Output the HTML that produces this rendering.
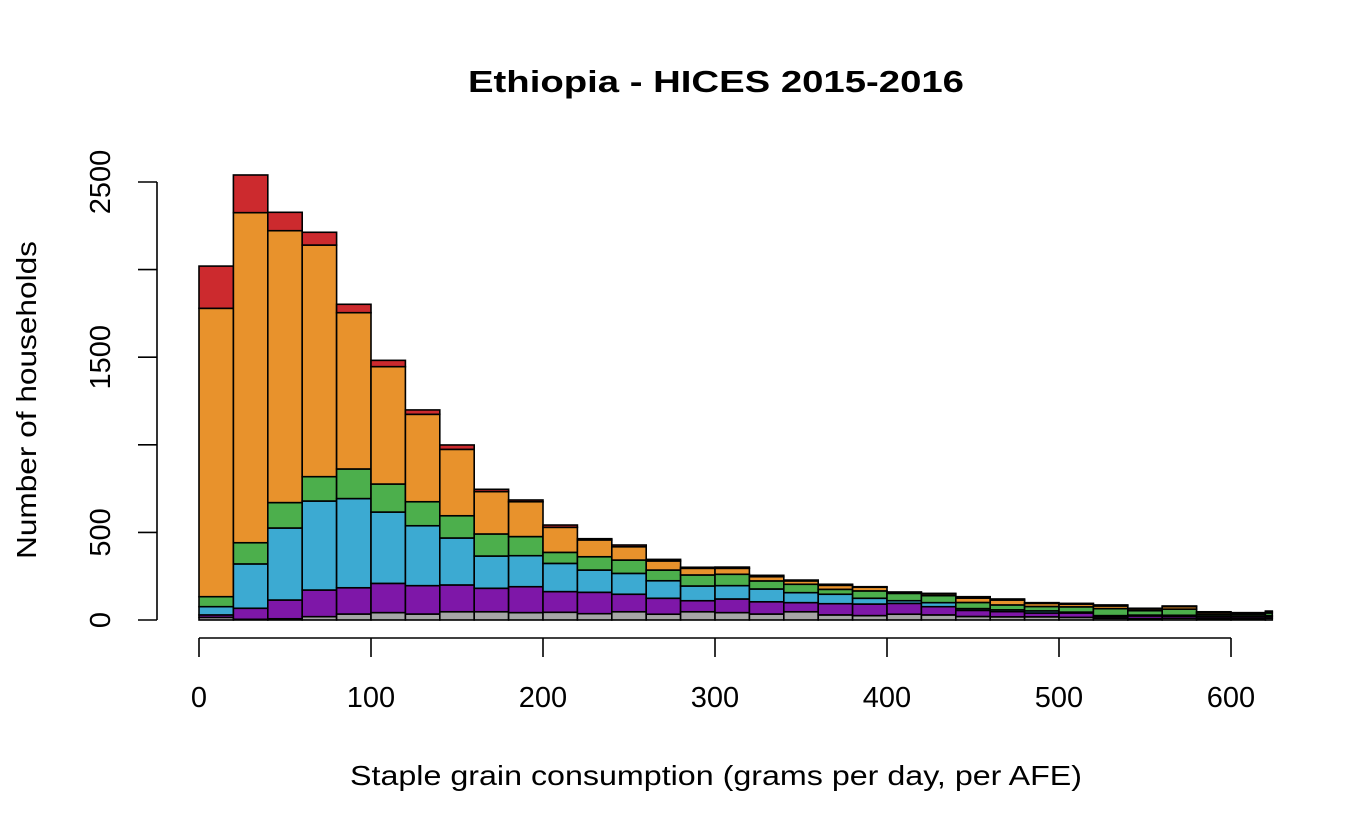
<!DOCTYPE html>
<html><head><meta charset="utf-8"><style>
html,body{margin:0;padding:0;background:#fff;}
svg{display:block;font-family:"Liberation Sans",Arial,sans-serif;}
</style></head><body>
<svg id="chart" width="1356" height="834" viewBox="0 0 1356 834" xmlns="http://www.w3.org/2000/svg">
<text x="716" y="92" text-anchor="middle" font-size="31" font-weight="bold" textLength="496" lengthAdjust="spacingAndGlyphs">Ethiopia - HICES 2015-2016</text>
<text x="716" y="785" text-anchor="middle" font-size="28" textLength="732" lengthAdjust="spacingAndGlyphs">Staple grain consumption (grams per day, per AFE)</text>
<text transform="translate(36,400) rotate(-90)" text-anchor="middle" font-size="28" textLength="318" lengthAdjust="spacingAndGlyphs">Number of households</text>
<g id="bars"></g>
<g id="axes"></g>
</svg>
<script>
const binStarts = [0,20,40,60,80,100,120,140,160,180,200,220,240,260,280,300,320,340,360,380,400,420,440,460,480,500,520,540,560,580,600,620];
const binWidth = [20,20,20,20,20,20,20,20,20,20,20,20,20,20,20,20,20,20,20,20,20,20,20,20,20,20,20,20,20,20,20,4];
const grey   = [15,4,7,19,34,42,34,47,47,42,44,36,47,33,47,42,34,47,29,25,33,29,20,18,18,15,10,8,10,8,8,10];
const purple = [14,63,107,152,150,167,162,153,134,148,118,122,100,91,63,78,70,52,64,66,62,47,35,30,22,25,10,15,12,10,10,10];
const blue   = [47,253,411,508,509,407,342,268,184,177,161,127,119,100,84,76,73,57,54,33,15,23,10,10,12,5,5,5,5,4,4,5];
const green  = [57,121,145,139,169,160,137,127,126,109,63,76,76,61,63,65,46,48,28,42,42,40,35,28,25,30,40,25,35,10,10,15];
const orange = [1646,1884,1552,1322,892,670,499,379,242,199,143,96,76,52,38,34,24,19,23,21,5,10,25,28,18,15,15,10,14,10,7,8];
const red    = [241,215,105,73,48,36,25,25,13,10,13,7,10,9,6,7,8,5,6,3,3,3,8,6,4,5,6,4,4,5,3,3];
const layers = [grey, purple, blue, green, orange, red];
const layerNames = ['grey','purple','blue','green','orange','red'];
const layerColors = ['#a6a6a6','#7e17a8','#3caad2','#4caf4c','#e8922c','#cc2a2e'];
const xTicks = [0,100,200,300,400,500,600];
const yTicks = [0,500,1000,1500,2000,2500];
const yTickLabels = ['0','500','','1500','','2500'];

function xs(v){ return 199 + v*1.72; }
function ys(v){ return 620 - v*0.1752; }
const NS='http://www.w3.org/2000/svg';
const bars=document.getElementById('bars');
for(let i=0;i<binStarts.length;i++){
  let cum=0;
  for(let l=0;l<layers.length;l++){
    const v=layers[l][i];
    const r=document.createElementNS(NS,'rect');
    r.setAttribute('x',xs(binStarts[i]));
    r.setAttribute('width',xs(binStarts[i]+binWidth[i])-xs(binStarts[i]));
    r.setAttribute('y',ys(cum+v));
    r.setAttribute('height',ys(cum)-ys(cum+v));
    r.setAttribute('fill',layerColors[l]);
    r.setAttribute('stroke','#000');
    r.setAttribute('stroke-width','1.6');
    
    
    bars.appendChild(r);
    cum+=v;
  }
}
const axes=document.getElementById('axes');
function line(x1,y1,x2,y2,name){
  const l=document.createElementNS(NS,'line');
  l.setAttribute('x1',x1);l.setAttribute('y1',y1);l.setAttribute('x2',x2);l.setAttribute('y2',y2);
  l.setAttribute('stroke','#000');l.setAttribute('stroke-width','1.6');
  
  
  axes.appendChild(l);
}
function text(x,y,s,name,rot){
  const t=document.createElementNS(NS,'text');
  t.setAttribute('font-size','29');t.setAttribute('text-anchor','middle');
  if(rot){t.setAttribute('transform','translate('+x+','+y+') rotate(-90)');}
  else{t.setAttribute('x',x);t.setAttribute('y',y);}
  t.textContent=s;
  
  
  axes.appendChild(t);
}
line(xs(xTicks[0]),638,xs(xTicks[xTicks.length-1]),638,'x-axis-line');
xTicks.forEach(v=>{ line(xs(v),638,xs(v),657,'x-tick-'+v); text(xs(v),707,String(v),'x-tick-label-'+v,false); });
line(157,ys(yTicks[0]),157,ys(yTicks[yTicks.length-1]),'y-axis-line');
yTicks.forEach((v,i)=>{ line(157,ys(v),138,ys(v),'y-tick-'+v); if(yTickLabels[i]) text(110,ys(v),yTickLabels[i],'y-tick-label-'+v,true); });
</script>
</body></html>
